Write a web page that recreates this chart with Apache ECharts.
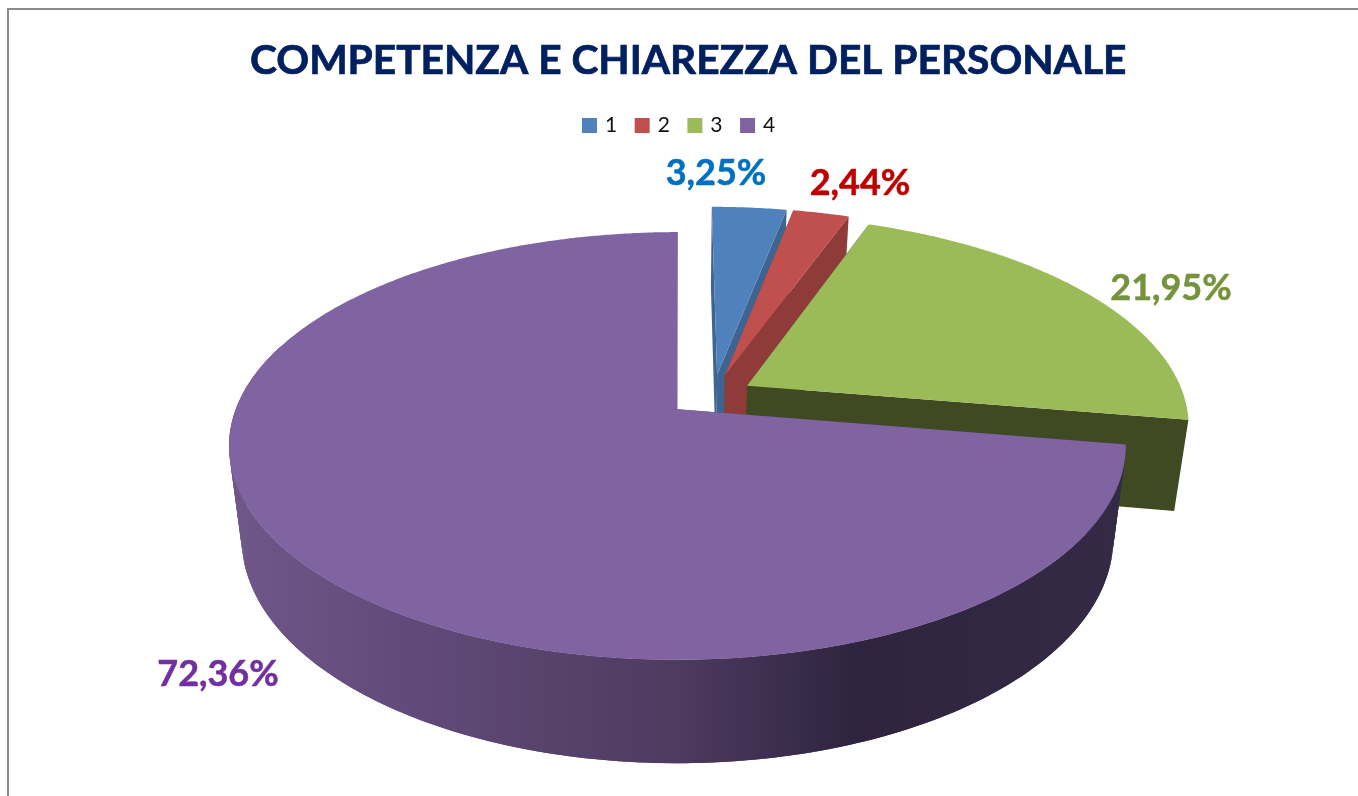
<!DOCTYPE html>
<html><head><meta charset="utf-8">
<style>html,body{margin:0;padding:0;background:#fff}#c{width:1358px;height:796px}</style>
<script src="https://cdn.jsdelivr.net/npm/echarts@6/dist/echarts.min.js"></script>
</head><body><div id="c"></div>
<script>
var titleText = 'COMPETENZA E CHIAREZZA DEL PERSONALE';
var categories = ['1', '2', '3', '4'];
var shares = [3.25, 2.44, 21.95, 72.36];
var topColors = ['#4f81bd', '#c0504d', '#9bbb59', '#8064a2'];
var wallColors = ['#3e6591', '#8f3b39', '#404a22', '#4f3c5f'];
var labelColors = ['#0070c0', '#c00000', '#76923c', '#7030a0'];
var labelAnchors = [[716, 173], [860, 183], [1171, 288], [218, 674]];
var explosions = [0.103, 0.103, 0.091, 0.107];
var wallStops = [[0, '#70578a'], [0.19, '#624b7a'], [0.5, '#4e3b60'], [0.7, '#2f2440'], [1, '#352a45']];

var view = {vx: 680, u0: 0.076, B: 436.5, p: 0.17, Bshrink: 0.972,
  topY: 395, topA: 202.7, botY: 484.9, botA: 213};
var total = shares.reduce(function (a, b) { return a + b; }, 0);
var wallGradient = {type: 'linear', x: 230, y: 0, x2: 1120, y2: 0, global: true,
  colorStops: wallStops.map(function (s) { return {offset: s[0], color: s[1]}; })};

function project(u, v, bottom) {
  var s = 1 / (1 - view.p * v);
  return [
    view.vx + view.B * (bottom ? view.Bshrink : 1) * (u + view.u0) * s,
    (bottom ? view.botY : view.topY) + (bottom ? view.botA : view.topA) * v * s
  ];
}
function poly(points, fill) {
  return {type: 'polygon', shape: {points: points}, style: {fill: fill}};
}
function makeRender(index) {
  return function (params, api) {
    var value = api.value(0);
    var before = 0, i;
    for (i = 0; i < index; i++) before += shares[i];
    var a0 = before / total * 2 * Math.PI;
    var a1 = a0 + value / total * 2 * Math.PI;
    var mid = (a0 + a1) / 2;
    var cu = explosions[index] * Math.sin(mid), cv = -explosions[index] * Math.cos(mid);
    var rim = function (a, bottom) { return project(cu + Math.sin(a), cv - Math.cos(a), bottom); };
    var kids = [];
    var wall = wallColors[index];
    var isBig = index === 3;
    kids.push(poly([project(cu, cv, false), rim(a0, false), rim(a0, true), project(cu, cv, true)], wall));
    if (!isBig) kids.push(poly([project(cu, cv, false), rim(a1, false), rim(a1, true), project(cu, cv, true)], wall));
    if (isBig) {
      // outer wall: overlapping strips sharing one global gradient, so no seams show
      var step = Math.PI / 180, aEnd = a0 + 3.3;
      for (var a = a0; a < aEnd; a += step) {
        var b = Math.min(a + step * 2, aEnd);
        kids.push(poly([rim(a, false), rim(a + step / 2, false), rim(b, false), rim(b, true), rim(a + step / 2, true), rim(a, true)], wallGradient));
      }
    }
    var top = [project(cu, cv, false)];
    for (var t = a0; t < a1; t += Math.PI / 360) top.push(rim(t, false));
    top.push(rim(a1, false));
    kids.push(poly(top, topColors[index]));
    kids.push({type: 'text', style: {
      text: value.toFixed(2).replace('.', ',') + '%',
      x: labelAnchors[index][0], y: labelAnchors[index][1],
      align: 'center', verticalAlign: 'middle',
      fill: labelColors[index], font: 'bold 36px Lato',
      stroke: labelColors[index], lineWidth: 0.5
    }});
    return {type: 'group', children: kids};
  };
}
var chart = echarts.init(document.getElementById('c'), null, {renderer: 'canvas'});
chart.setOption({
  animation: false,
  backgroundColor: '#ffffff',
  color: topColors,
  title: {text: titleText, left: 250, top: 40, padding: 0,
    textStyle: {fontFamily: 'Lato', fontWeight: 'bold', fontSize: 40.7, color: '#002060',
      textBorderColor: '#002060', textBorderWidth: 0.7}},
  legend: {data: categories, left: 582, top: 115, padding: 0, itemWidth: 15, itemHeight: 15, itemGap: 17.5, icon: 'rect',
    selectedMode: false, textStyle: {fontFamily: 'Lato', fontSize: 21, color: '#111', padding: [0, 0, 0, 3]}},
  graphic: [
    {type: 'polyline', shape: {points: [[8, 796], [8, 9], [1358, 9]]}, style: {stroke: '#8c8c8c', lineWidth: 2, fill: null}}
  ],
  series: categories.map(function (name, i) {
    return {type: 'custom', name: name, coordinateSystem: 'none', clip: false,
      itemStyle: {color: topColors[i]}, renderItem: makeRender(i), data: [[shares[i]]]};
  })
});
</script></body></html>
